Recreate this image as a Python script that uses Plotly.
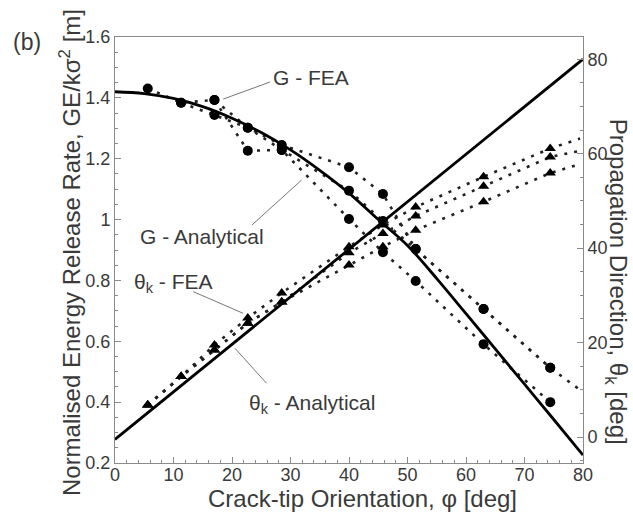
import plotly.graph_objects as go

# Analytical solutions
phi_an = [0, 5, 10, 15, 20, 25, 30, 35, 40, 45, 50, 55, 60, 65, 70, 75, 80]
g_an = [1.420, 1.414, 1.398, 1.371, 1.333, 1.286, 1.229, 1.162, 1.087, 1.000,
        0.915, 0.806, 0.691, 0.575, 0.459, 0.343, 0.226]
phi_th_an = [0, 20, 40, 60, 80]
theta_an = [-0.5, 19.6, 39.8, 60.0, 80.0]

# FEA results: energy release rate (three model sets)
g_a_phi = [5.6, 11.3, 17.0, 22.7, 28.5, 40.0, 45.8, 51.4, 63.0, 74.4]
g_a_val = [1.431, 1.384, 1.393, 1.302, 1.245, 1.172, 1.084, 0.903, 0.706, 0.513]
g_b_phi = [11.3, 17.0, 22.7, 28.5, 40.0, 45.8, 51.4, 63.0, 74.4]
g_b_val = [1.384, 1.344, 1.302, 1.229, 1.095, 0.995, 0.903, 0.706, 0.513]
g_c_phi = [17.0, 22.7, 28.5, 40.0, 45.8, 51.4, 63.0, 74.4]
g_c_val = [1.393, 1.226, 1.229, 1.002, 0.893, 0.798, 0.590, 0.400]

# FEA results: propagation direction (three model sets)
th_phi = [5.6, 11.3, 17.0, 22.7, 28.5, 40.0, 45.8, 51.4, 63.0, 74.4]
th_a = [6.8, 12.8, 19.5, 25.2, 30.5, 40.3, 44.9, 48.7, 55.1, 61.1]
th_b = [6.8, 12.8, 18.4, 24.1, 28.6, 39.0, 43.1, 46.8, 53.1, 59.3]
th_c = [6.8, 12.8, 18.4, 24.1, 28.6, 36.4, 40.3, 43.8, 49.8, 55.9]

# end points of the dotted trend lines beyond the last FEA point
trend_end_phi = 79.5
g_a_end = 0.44
th_ends = [63.2, 60.6, 57.8]

FONT = "Liberation Sans, Arial, sans-serif"
TXT = "#3a3a3a"
AX = "#8a8a8a"
DOT = dict(color="#222222", width=2.6, dash="3px,7px")

fig = go.Figure()

# dotted connectors for FEA energy release rate
for px, vals, end in [(g_a_phi, g_a_val, g_a_end), (g_b_phi, g_b_val, None), (g_c_phi, g_c_val, None)]:
    xs, ys = list(px), list(vals)
    if end is not None:
        xs.append(trend_end_phi)
        ys.append(end)
    fig.add_trace(go.Scatter(x=xs, y=ys, mode="lines", line=DOT, showlegend=False))

# dotted connectors for FEA propagation direction
for vals, end in zip([th_a, th_b, th_c], th_ends):
    fig.add_trace(go.Scatter(x=th_phi + [trend_end_phi], y=vals + [end], mode="lines",
                             line=DOT, yaxis="y2", showlegend=False))

# analytical curves
fig.add_trace(go.Scatter(x=phi_an, y=g_an, mode="lines", line=dict(color="black", width=2.8),
                         line_shape="spline", showlegend=False))
fig.add_trace(go.Scatter(x=phi_th_an, y=theta_an, mode="lines", yaxis="y2",
                         line=dict(color="black", width=2.8), showlegend=False))

# FEA markers
for px, vals in [(g_a_phi, g_a_val), (g_b_phi, g_b_val), (g_c_phi, g_c_val)]:
    fig.add_trace(go.Scatter(x=px, y=vals, mode="markers",
                             marker=dict(symbol="circle", size=10, color="black"),
                             showlegend=False))
for vals in [th_a, th_b, th_c]:
    fig.add_trace(go.Scatter(x=th_phi, y=vals, mode="markers", yaxis="y2",
                             marker=dict(symbol="triangle-up", size=10, color="black"),
                             showlegend=False))

# label leader lines (data coordinates, left axis)
leaders = [
    (26.5, 1.452, 18.5, 1.396),
    (23.4, 0.982, 31.9, 1.130),
    (13.4, 0.763, 21.9, 0.692),
    (25.9, 0.462, 20.5, 0.577),
]
for x0, y0, x1, y1 in leaders:
    fig.add_shape(type="line", xref="x", yref="y", x0=x0, y0=y0, x1=x1, y1=y1,
                  line=dict(color="#777777", width=1))

labels = [
    ("G - FEA", 26.6, 1.468),
    ("G - Analytical", 3.9, 0.946),
    ("θ<sub>k</sub> - FEA", 2.85, 0.790),
    ("θ<sub>k</sub> - Analytical", 22.5, 0.395),
]
for txt, x, y in labels:
    fig.add_annotation(x=x, y=y, xref="x", yref="y", text=txt, showarrow=False,
                       xanchor="left", yanchor="middle",
                       font=dict(family=FONT, size=21, color=TXT))

# panel tag and axis titles
fig.add_annotation(x=-0.187, y=0.989, xref="paper", yref="paper", text="(b)",
                   xanchor="center", yanchor="middle",
                   showarrow=False, font=dict(family=FONT, size=23, color=TXT))
fig.add_annotation(x=-0.096, y=0.493, xref="paper", yref="paper",
                   text="Normalised Energy Release Rate, GE/kσ<sup>2</sup> [m]",
                   xanchor="center", yanchor="middle",
                   textangle=-90, showarrow=False, font=dict(family=FONT, size=24, color=TXT))
fig.add_annotation(x=1.071, y=0.425, xref="paper", yref="paper",
                   text="Propagation Direction, θ<sub>k</sub> [deg]",
                   xanchor="center", yanchor="middle",
                   textangle=90, showarrow=False, font=dict(family=FONT, size=24, color=TXT))
fig.add_annotation(x=0.528, y=-0.0845, xref="paper", yref="paper",
                   text="Crack-tip Orientation, φ [deg]", xanchor="center", yanchor="middle",
                   showarrow=False, font=dict(family=FONT, size=24, color=TXT))

axis_common = dict(showline=True, linecolor=AX, linewidth=1, ticks="inside", ticklen=6,
                   tickcolor=AX, tickwidth=1, showgrid=False, zeroline=False,
                   tickfont=dict(family=FONT, size=18, color=TXT))

fig.update_layout(
    width=633, height=515,
    margin=dict(l=115, r=50, t=37, b=52, autoexpand=False),
    paper_bgcolor="white", plot_bgcolor="white",
    xaxis=dict(range=[0, 80], dtick=10, tick0=0, mirror=True, ticklabelstandoff=-5,
               minor=dict(dtick=2, ticks="inside", ticklen=3, tickcolor=AX), **axis_common),
    yaxis=dict(range=[0.2, 1.6], dtick=0.2, tick0=0.2,
               minor=dict(dtick=0.05, ticks="inside", ticklen=3, tickcolor=AX), **axis_common),
    yaxis2=dict(range=[-5.5, 84.7], dtick=20, tick0=0, overlaying="y", side="right",
                minor=dict(dtick=5, ticks="inside", ticklen=3, tickcolor=AX), **axis_common),
)

fig.write_html("out.html")
